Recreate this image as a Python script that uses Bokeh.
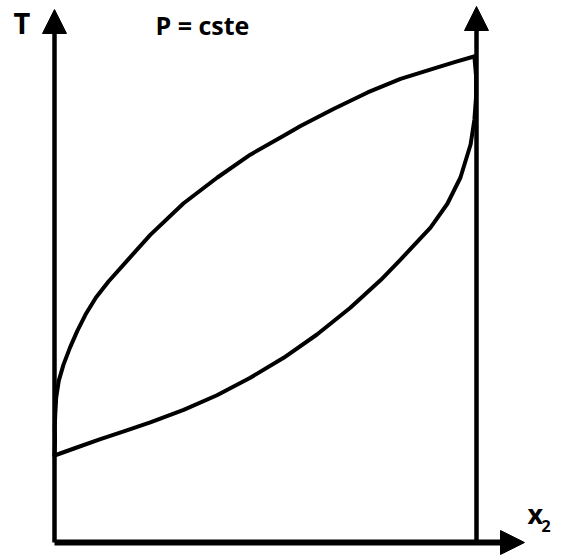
from bokeh.plotting import figure
from bokeh.models import Range1d, Arrow, NormalHead, Label
from bokeh.embed import file_html
from bokeh.resources import INLINE

# Isobaric T-x2 diagram of an ideal binary mixture (P = constant)
# Dew curve (vapour side, upper branch of the lens)
dew_x2 = [0.0, 0.0012, 0.0007, 0.0019, 0.0040, 0.0102, 0.0213, 0.0367,
          0.0538, 0.0735, 0.0983, 0.128, 0.168, 0.227, 0.306, 0.386,
          0.464, 0.543, 0.583, 0.661, 0.742, 0.820, 0.898, 0.950,
          0.990, 0.995]
dew_T = [17.9, 20.9, 24.0, 26.5, 29.8, 33.3, 36.6, 40.1,
         43.5, 46.9, 50.4, 53.7, 57.6, 63.3, 69.8, 75.1,
         79.8, 83.7, 85.7, 89.2, 92.6, 95.4, 97.5, 98.9,
         99.9, 100.0]

# Bubble curve (liquid side, lower branch of the lens)
bubble_x2 = [0.0, 0.0545, 0.107, 0.166, 0.227, 0.306, 0.385, 0.464,
             0.543, 0.622, 0.701, 0.773, 0.820, 0.851, 0.891, 0.931,
             0.962, 0.986, 0.995, 0.999, 0.999, 0.995]
bubble_T = [17.9, 19.6, 21.2, 22.9, 24.7, 27.3, 30.3, 33.9,
            38.0, 42.8, 48.3, 54.0, 58.2, 61.1, 64.8, 69.7,
            75.1, 81.9, 87.0, 91.8, 95.9, 100.0]

W, H = 567, 557
px_per_x = 422.0
px_per_T = 4.86
x0_px, T0_px = 54.0, 542.0

x_start = -x0_px / px_per_x
x_end = x_start + W / px_per_x
T_end = T0_px / px_per_T
T_start = -(H - T0_px) / px_per_T

p = figure(width=W, height=H, output_backend="svg", toolbar_location=None,
           x_range=Range1d(x_start, x_end), y_range=Range1d(T_start, T_end),
           min_border=0, background_fill_color="white",
           border_fill_color="white")
p.xaxis.visible = False
p.yaxis.visible = False
p.xgrid.visible = False
p.ygrid.visible = False
p.outline_line_color = None


def to_T(py):
    return (T0_px - py) / px_per_T


def to_x(px):
    return (px - x0_px) / px_per_x


# phase envelope
p.line(dew_x2, dew_T, line_color="black", line_width=4, line_join="round",
       line_cap="round")
p.line(bubble_x2, bubble_T, line_color="black", line_width=4,
       line_join="round", line_cap="round")

# hand-drawn axes with arrow heads
head = dict(fill_color="black", line_color="black", line_width=1)
p.add_layout(Arrow(x_start=0, y_start=0, x_end=0, y_end=to_T(9),
                   line_width=4.5, line_color="black",
                   end=NormalHead(size=24, **head)))
p.add_layout(Arrow(x_start=1.0, y_start=0, x_end=1.0, y_end=to_T(6),
                   line_width=4.5, line_color="black",
                   end=NormalHead(size=24, **head)))
p.add_layout(Arrow(x_start=0, y_start=0, x_end=to_x(524), y_end=0,
                   line_width=6, line_color="black",
                   end=NormalHead(size=24, **head)))

font = "Open Sans"
common = dict(text_font=font, text_font_style="bold", text_color="black",
              text_baseline="middle")
p.add_layout(Label(x=to_x(21.5), y=to_T(22), text="T", text_font_size="29px",
                   text_align="center", **common))
p.add_layout(Label(x=to_x(155), y=to_T(24), text="P = cste",
                   text_font_size="25px", text_align="left", **common))
p.add_layout(Label(x=to_x(527), y=to_T(513), text="x",
                   text_font_size="27px", text_align="left", **common))
p.add_layout(Label(x=to_x(541), y=to_T(525), text="2",
                   text_font_size="16px", text_align="left", **common))

open("out.html", "w").write(file_html(p, INLINE))
